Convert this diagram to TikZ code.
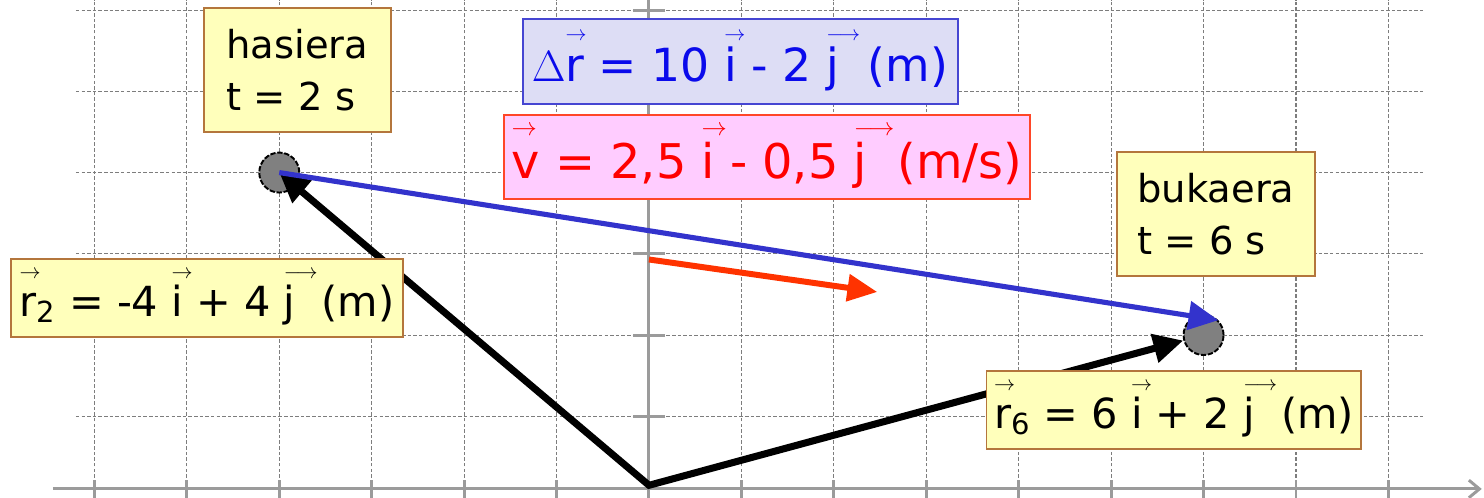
\documentclass[tikz,border=0pt]{standalone}
\usepackage{fontspec}
\setmainfont{DejaVu Sans}
\usetikzlibrary{arrows.meta}

\definecolor{notefill}{RGB}{255,255,187}
\definecolor{notedraw}{RGB}{180,118,60}
\definecolor{drfill}{RGB}{221,221,245}
\definecolor{drdraw}{RGB}{70,70,210}
\definecolor{drtext}{RGB}{10,10,235}
\definecolor{velfill}{RGB}{255,204,255}
\definecolor{veldraw}{RGB}{255,70,40}
\definecolor{veltext}{RGB}{255,0,0}
\definecolor{dispblue}{RGB}{51,51,204}
\definecolor{velred}{RGB}{255,51,0}
\definecolor{axisgray}{RGB}{155,155,155}
\definecolor{gridgray}{RGB}{125,125,125}
\definecolor{pointgray}{RGB}{128,128,128}

% 矢量符号
\newcommand{\vv}[1]{\mbox{\rlap{\raisebox{0.9em}{$\scriptscriptstyle\rightarrow$}}#1}}
\newcommand{\vvl}[1]{\mbox{\rlap{\raisebox{0.9em}{$\scriptscriptstyle\longrightarrow$}}#1}}

\tikzset{
  gridline/.style={gridgray, line width=0.6pt, dash pattern=on 2pt off 1.2pt},
  axisline/.style={axisgray, line width=1.7pt},
  note/.style={draw=notedraw, fill=notefill, line width=1.1pt, inner xsep=0.15cm, inner ysep=0pt},
  timebox/.style={note, align=left, minimum width=3.74cm, minimum height=2.48cm,
    font=\fontsize{21.9}{29.6}\selectfont},
  posbox/.style={note, minimum height=1.56cm, font=\fontsize{23.6}{27}\selectfont},
  drbox/.style={draw=drdraw, fill=drfill, text=drtext, line width=1.1pt, inner xsep=0.15cm,
    minimum width=8.7cm, minimum height=1.7cm, font=\fontsize{26}{29}\selectfont},
  velbox/.style={draw=veldraw, fill=velfill, text=veltext, line width=1.1pt, inner xsep=0.15cm,
    minimum width=10.44cm, minimum height=1.68cm, font=\fontsize{27.2}{30}\selectfont},
  point/.style={circle, draw=black, line width=1.1pt, dash pattern=on 3pt off 1pt,
    fill=pointgray, minimum size=0.8cm, inner sep=0pt},
  rvec/.style={line width=4pt, {Triangle[length=17pt,width=16pt]}-{Triangle[length=17pt,width=16pt]}},
  dvec/.style={dispblue, line width=2.9pt, -{Triangle[length=17pt,width=16pt]}},
  velvec/.style={velred, line width=3.4pt, -{Triangle[length=17pt,width=15pt]}}
}

\begin{document}
\begin{tikzpicture}[x=1.8486cm, y=1.6246cm]
  \useasboundingbox (-7.0215,-0.006) rectangle (9.034,6.1246);
  % 网格
  \foreach \x in {-6,...,8} {
      \draw[gridline] (\x,0.105) -- (\x,6.13);
  }
  \foreach \y in {1,...,6} {
      \draw[gridline] (-6.2,\y) -- (8.4,\y);
  }
  % 坐标轴
  \draw[axisline, -{Straight Barb[length=6pt,width=10pt]}] (-6.45,0.105) -- (9.01,0.105);
  \draw[axisline] (0,-0.01) -- (0,6.13);
  \foreach \x in {-6,...,8} {
      \draw[axisline] (\x,-0.01) -- (\x,0.22);
  }
  \foreach \y in {1,...,6} {
      \draw[axisline] (-0.17,\y) -- (0.17,\y);
  }
  % 位置点
  \coordinate (O) at (0,0.15);
  \node[point] (P2) at (-4,4) {};
  \node[point] (P6) at (6,2) {};
  % 位置矢量与位移
  \draw[rvec] (P2.center) -- (O) -- (P6);
  \draw[dvec] (P2.center) -- (P6.north east);
  % 平均速度
  \coordinate (V0) at (0,2.93);
  \coordinate (V1) at (2.47,2.53);
  \draw[velvec] (V0) -- (V1);
  % 标注框
  \node[timebox] (start) at (-3.803,5.263) {hasiera\\t = 2 s};
  \node[timebox, minimum width=3.96cm] (end) at (6.134,3.49) {bukaera\\t = 6 s};
  \node[drbox] (dr) at (0.985,5.367) {$\Delta$\vv{r} = 10 \vv{i} - 2 \vvl{j}~ (m)};
  \node[velbox] (vel) at (1.277,4.192) {\vv{v} = 2,5 \vv{i} - 0,5 \vvl{j}~ (m/s)};
  \node[posbox, minimum width=7.84cm] (r2) at (-4.782,2.456) {\vv{r}\textsubscript{2} = -4 \vv{i} + 4 \vvl{j}~ (m)};
  \node[posbox, minimum width=7.48cm] (r6) at (5.68,1.077) {\vv{r}\textsubscript{6} = 6 \vv{i} + 2 \vvl{j}~ (m)};
\end{tikzpicture}
\end{document}
